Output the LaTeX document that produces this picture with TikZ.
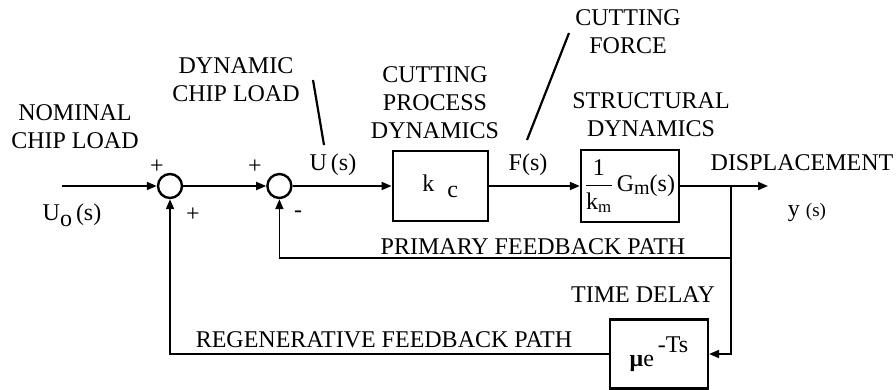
\documentclass[tikz,border=0pt]{standalone}
\usepackage{amsmath}
\usepackage{fontspec}
\setmainfont{Liberation Serif}
\usetikzlibrary{arrows.meta,positioning}

\begin{document}
\begin{tikzpicture}[
x=1pt,y=-1pt,
font=\fontsize{24}{28}\selectfont,
box/.style={draw,line width=2.2pt,minimum width=95pt,minimum height=70pt,inner sep=2pt,align=center},
sumnode/.style={draw,circle,line width=2.4pt,minimum size=24pt,inner sep=0pt},
txt/.style={inner sep=0pt,align=center},
arrow/.style={-{Triangle[length=10pt,width=8pt]},line width=1.8pt},
pointer/.style={line width=2.2pt}
]
\useasboundingbox (0,0) rectangle (896,390);
% forward path
\coordinate (in) at (62,186);
\node[sumnode] (sum1) at (170,186) {};
\node[sumnode,right=83pt of sum1] (sum2) {};
\node[box,right=99pt of sum2] (kc) {k\hspace{0.55em}\raisebox{-6pt}{c}};
\node[box,minimum width=98pt,minimum height=72pt,inner sep=1pt,right=91pt of kc] (struct)
  {$\dfrac{\text{1}}{\text{k}_{\text{m}}}$\,G\raisebox{-3pt}{\fontsize{20}{20}\selectfont m}(s)};
\coordinate (branch) at (731,186);
\coordinate (out) at (768,186);
\coordinate (fb) at (731,258);
\node[box,minimum width=98pt,minimum height=69pt] (delay) at (659,354)
  {{\bfseries μ}e\raisebox{14pt}{\,-Ts}};
\draw[arrow] (in) -- (sum1);
\draw[arrow] (sum1) -- (sum2);
\draw[arrow] (sum2) -- (kc);
\draw[arrow] (kc) -- (struct);
\draw[arrow] (struct) -- (out);
% feedback paths
\draw[arrow] (branch) -- (fb) -| (sum2.south);
\draw[arrow] (branch) |- (delay.east);
\draw[arrow] (delay.west) -| (sum1.south);
% signs
\node[txt] (plusa) at (157,167) {+};
\node[txt] (plusb) at (193,215) {+};
\node[txt] (plusc) at (255,167) {+};
\node[txt] (minus) at (298,214) {-};
% signal labels
\node[txt] (uo) at (72,215) {U\raisebox{-6pt}{o}\,(s)};
\node[txt] (us) at (333,165) {U\,(s)};
\node[txt] (fs) at (528,165) {F(s)};
\node[txt] (ys) at (807,212) {y {\fontsize{19}{19}\selectfont(s)}};
\node[txt] (disp) at (802,163) {DISPLACEMENT};
% descriptions
\node[txt] (nominal) at (75,127) {NOMINAL\\CHIP LOAD};
\node[txt] (dynload) at (236,80) {DYNAMIC\\CHIP LOAD};
\node[txt] (process) at (435,103) {CUTTING\\PROCESS\\DYNAMICS};
\node[txt] (force) at (628,32) {CUTTING\\FORCE};
\node[txt] (structural) at (651,115) {STRUCTURAL\\DYNAMICS};
\node[txt] (timedelay) at (643,295) {TIME DELAY};
\node[txt] (primary) at (533,247) {PRIMARY FEEDBACK PATH};
\node[txt] (regen) at (384,340) {REGENERATIVE FEEDBACK PATH};
% pointer strokes
\coordinate (pa1) at (313,80);
\coordinate (pa2) at (324,145);
\coordinate (pb1) at (569,33);
\coordinate (pb2) at (527,140);
\draw[pointer] (pa1) -- (pa2);
\draw[pointer] (pb1) -- (pb2);
\end{tikzpicture}
\end{document}
